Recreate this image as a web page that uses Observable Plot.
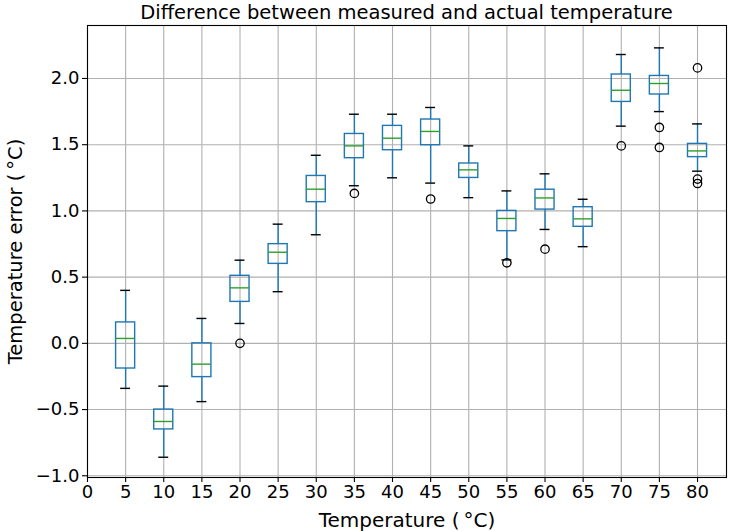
<!DOCTYPE html>
<html>
<head>
<meta charset="utf-8">
<script src="https://cdn.jsdelivr.net/npm/d3@7"></script>
<script src="https://cdn.jsdelivr.net/npm/@observablehq/plot@0.6"></script>
<style>
  html, body { margin: 0; padding: 0; background: #fff; }
  #title { height: 22px; line-height: 22px; font-family: "DejaVu Sans", sans-serif; font-size: 19.5px; color: #000; text-align: center; width: 731px; padding-left: 82px; box-sizing: border-box; padding-top: 2px; white-space: nowrap; }
</style>
</head>
<body>
<div id="title">Difference between measured and actual temperature</div>
<div id="chart"></div>
<script>
const temps       = [5, 10, 15, 20, 25, 30, 35, 40, 45, 50, 55, 60, 65, 70, 75, 80];
const whiskerLow  = [-0.34, -0.86, -0.44, 0.15, 0.39, 0.82, 1.19, 1.25, 1.21, 1.10, 0.63, 0.86, 0.73, 1.64, 1.75, 1.30];
const q1          = [-0.19, -0.65, -0.255, 0.313, 0.60, 1.066, 1.398, 1.458, 1.496, 1.249, 0.847, 1.01, 0.88, 1.823, 1.879, 1.406];
const medians     = [0.037, -0.59, -0.157, 0.419, 0.688, 1.164, 1.491, 1.549, 1.60, 1.31, 0.943, 1.098, 0.94, 1.911, 1.962, 1.453];
const q3          = [0.158, -0.50, 0.0, 0.51, 0.749, 1.264, 1.581, 1.642, 1.69, 1.358, 1.00, 1.16, 1.028, 2.03, 2.019, 1.506];
const whiskerHigh = [0.40, -0.323, 0.188, 0.628, 0.90, 1.42, 1.73, 1.73, 1.781, 1.491, 1.151, 1.28, 1.088, 2.181, 2.231, 1.657];
const outlierTemps  = [20, 35, 45, 55, 60, 70, 75, 75, 80, 80, 80];
const outlierValues = [0.0, 1.132, 1.09, 0.608, 0.711, 1.491, 1.63, 1.479, 2.08, 1.24, 1.207];
const xTicks = [0, 5, 10, 15, 20, 25, 30, 35, 40, 45, 50, 55, 60, 65, 70, 75, 80];
const yTicks = [-1.0, -0.5, 0.0, 0.5, 1.0, 1.5, 2.0];
const xLabel = "Temperature (\u2009°C)";
const yLabel = "Temperature error (\u2009°C)";

const boxes = temps.map((t, i) => ({
  t, lo: whiskerLow[i], q1: q1[i], med: medians[i], q3: q3[i], hi: whiskerHigh[i]
}));
const outliers = outlierTemps.map((t, i) => ({t, v: outlierValues[i]}));

const halfBox = 1.25;
const halfCap = 0.65;
const blue = "#1f77b4";
const lw = 1.4;

const chart = Plot.plot({
  width: 731,
  height: 509,
  marginTop: 3,
  marginRight: 5,
  marginBottom: 54,
  marginLeft: 87,
  style: { fontFamily: "DejaVu Sans, sans-serif", fontSize: "18px", background: "#fff", color: "#000", overflow: "visible" },
  x: { type: "linear", domain: [0, 83.8] },
  y: { type: "linear", domain: [-1.013, 2.40] },
  marks: [
    Plot.gridX(xTicks, { stroke: "#b0b0b0", strokeOpacity: 1, strokeWidth: 1.1 }),
    Plot.gridY(yTicks, { stroke: "#b0b0b0", strokeOpacity: 1, strokeWidth: 1.1 }),
    // whiskers
    Plot.ruleX(boxes, { x: "t", y1: "q3", y2: "hi", stroke: blue, strokeWidth: lw }),
    Plot.ruleX(boxes, { x: "t", y1: "lo", y2: "q1", stroke: blue, strokeWidth: lw }),
    // caps
    Plot.ruleY(boxes, { y: "hi", x1: d => d.t - halfCap, x2: d => d.t + halfCap, stroke: "#000", strokeWidth: lw }),
    Plot.ruleY(boxes, { y: "lo", x1: d => d.t - halfCap, x2: d => d.t + halfCap, stroke: "#000", strokeWidth: lw }),
    // boxes
    Plot.rect(boxes, { x1: d => d.t - halfBox, x2: d => d.t + halfBox, y1: "q1", y2: "q3", fill: "none", stroke: blue, strokeWidth: lw, inset: 0 }),
    // medians
    Plot.ruleY(boxes, { y: "med", x1: d => d.t - halfBox, x2: d => d.t + halfBox, stroke: "#2ca02c", strokeWidth: lw }),
    // fliers
    Plot.dot(outliers, { x: "t", y: "v", r: 4.2, stroke: "#000", fill: "none", strokeWidth: 1.3 }),
    Plot.frame({ stroke: "#000", strokeWidth: 1.1 }),
    Plot.axisX({ ticks: xTicks, tickSize: 5, tickPadding: 3, tickFormat: d3.format("d"), fontSize: 18, strokeWidth: 1.1, label: null }),
    Plot.axisY({ ticks: yTicks, tickSize: 5, tickPadding: 3, tickFormat: d3.format(".1f"), fontSize: 18, strokeWidth: 1.1, label: null }),
    Plot.text([xLabel], { text: d => d, frameAnchor: "bottom", dy: 43, lineAnchor: "middle", textAnchor: "middle", fontSize: 20, fill: "#000" }),
    Plot.text([yLabel], { text: d => d, frameAnchor: "left", dx: -72, rotate: -90, lineAnchor: "middle", textAnchor: "middle", fontSize: 19.5, fill: "#000" })
  ]
});
document.getElementById("chart").appendChild(chart);
</script>
</body>
</html>
